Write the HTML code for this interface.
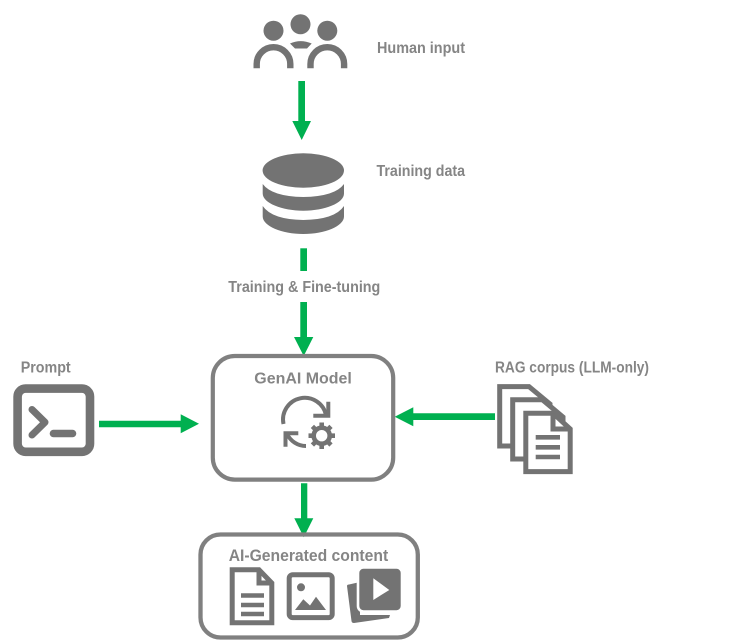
<!DOCTYPE html>
<html>
<head>
<meta charset="utf-8">
<style>
html,body{margin:0;padding:0;background:#fff;width:731px;height:640px;overflow:hidden}
svg{display:block}
text{font-family:"Liberation Sans",sans-serif;font-weight:bold;fill:#858585;font-size:15.5px}
</style>
</head>
<body>
<svg width="731" height="640" viewBox="0 0 731 640" xmlns="http://www.w3.org/2000/svg">
<!-- people -->
<g fill="#737373">
<circle cx="273.5" cy="30.7" r="10"/>
<circle cx="300.5" cy="24.3" r="10"/>
<circle cx="327.3" cy="30.7" r="10"/>
<path d="M290 43.5Q300.5 38.8 311.7 43.5L307 48.5H295Z"/>
</g>
<g fill="none" stroke="#737373" stroke-width="6.4">
<path d="M256.7 68.3V64A16.8 16.8 0 0 1 290.3 64V68.3"/>
<path d="M310.5 68.3V64A16.8 16.8 0 0 1 344.1 64V68.3"/>
</g>
<!-- db -->
<g fill="#737373">
<ellipse cx="303.3" cy="170.5" rx="40.7" ry="17.2"/>
<path d="M262.7 184Q272 196.5 303.3 197Q335 196.5 344 184V193.5C344 203 325 210.7 303.3 210.7C282 210.7 262.7 203 262.7 193.5Z"/>
<path d="M262.7 206Q272 219.5 303.3 220Q335 219.5 344 206V216.5C344 226 325 234 303.3 234C282 234 262.7 226 262.7 216.5Z"/>
</g>
<!-- green arrows -->
<g fill="#00b050">
<path d="M298.3 81H305V121H311L301.7 140L292.3 121H298.3Z"/>
<rect x="300.3" y="248.3" width="6.7" height="22.7"/>
<path d="M300.3 302H307V337H313.3L303.7 356L294 337H300.3Z"/>
<path d="M99 420.7H180.7V414.3L199 423.8L180.7 433.3V427.3H99Z"/>
<path d="M495 413.3H413.3V407.3L394.7 416.8L413.3 426.3V420H495Z"/>
<path d="M301 483.3H307.3V518.3H313.3L303.8 537.3L294.3 518.3H301Z"/>
</g>
<!-- labels -->
<text x="377" y="53" textLength="88" lengthAdjust="spacingAndGlyphs">Human input</text>
<text x="376.5" y="176" textLength="88.5" lengthAdjust="spacingAndGlyphs">Training data</text>
<text x="228.3" y="292" textLength="152" lengthAdjust="spacingAndGlyphs">Training &amp; Fine-tuning</text>
<text x="20.7" y="372.7" textLength="50" lengthAdjust="spacingAndGlyphs">Prompt</text>
<text x="254.3" y="383.3" textLength="97.5" lengthAdjust="spacingAndGlyphs">GenAI Model</text>
<text x="495" y="372.7" textLength="154" lengthAdjust="spacingAndGlyphs">RAG corpus (LLM-only)</text>
<text x="228.7" y="561" textLength="159.5" lengthAdjust="spacingAndGlyphs" style="font-size:17px">AI-Generated content</text>
<!-- prompt icon -->
<rect x="17.6" y="388.6" width="72.4" height="63.2" rx="8" fill="none" stroke="#737373" stroke-width="8.6"/>
<path d="M32 409.5L45 422.3L32 435" fill="none" stroke="#737373" stroke-width="7" stroke-linecap="round" stroke-linejoin="round"/>
<path d="M53.5 433.5H72.5" fill="none" stroke="#737373" stroke-width="7.6" stroke-linecap="round"/>
<!-- GenAI box -->
<rect x="212.8" y="356" width="180.4" height="123.6" rx="22" fill="none" stroke="#808080" stroke-width="4.2"/>
<g fill="none" stroke="#737373" stroke-width="4">
<path d="M283.5 424A21.5 21.5 0 0 1 326 415"/>
<path d="M328.3 401.7V415.7H313.3"/>
<path d="M306 446A21 21 0 0 1 287 433.8"/>
<path d="M298.3 433.3H285.5V446.7"/>
<circle cx="321.7" cy="435.7" r="8" stroke-width="4.6"/>
<path d="M321.7 422.5V427.5M321.7 444V449M308.5 435.7H313.5M330 435.7H335M312.4 426.4L316 430M327.4 441.4L331 445M312.4 445L316 441.4M327.4 430L331 426.4" stroke-width="4.6"/>
</g>
<!-- RAG docs -->
<g stroke="#737373" stroke-width="5" fill="#fff">
<path d="M499.7 446V386.6H529L550 404V446Z"/>
<path d="M512.7 459V399.8H542.5L563 417V459Z"/>
<path d="M525.8 471.6V413.2H553L570.2 429V471.6Z"/>
<path d="M553 413.2V429H570.2" fill="none"/>
<path d="M535.7 437.3H560M535.7 447.3H560M535.7 457H560" fill="none" stroke-width="4.6"/>
</g>
<!-- content box -->
<rect x="200.5" y="534.5" width="217.3" height="103" rx="20" fill="none" stroke="#808080" stroke-width="4.3"/>
<g stroke="#737373" stroke-width="5" fill="#fff">
<path d="M232.2 622.8V569.8H259L271.8 583V622.8Z"/>
<path d="M259 569.8V583H271.8" fill="none"/>
<path d="M241 595.5H264M241 605H264M241 614H264" fill="none" stroke-width="4.4"/>
</g>
<rect x="289.2" y="574.8" width="43" height="42.8" rx="3.5" fill="#fff" stroke="#737373" stroke-width="5"/>
<g fill="#737373">
<circle cx="301" cy="587.3" r="4"/>
<path d="M295 610L303.3 599.3L310 605.5L316 596.7L326 610Z"/>
<path d="M347 586Q347 584.5 349 584.5L360 582V615H390L389 618L354 623Q351.7 623 351.5 621Z"/>
<rect x="358" y="567.5" width="44" height="44" rx="5.5" stroke="#fff" stroke-width="2.6"/>
<path d="M373.3 578.3L389.3 590L373.3 600Z" fill="#fff"/>
</g>
</svg>
</body>
</html>
